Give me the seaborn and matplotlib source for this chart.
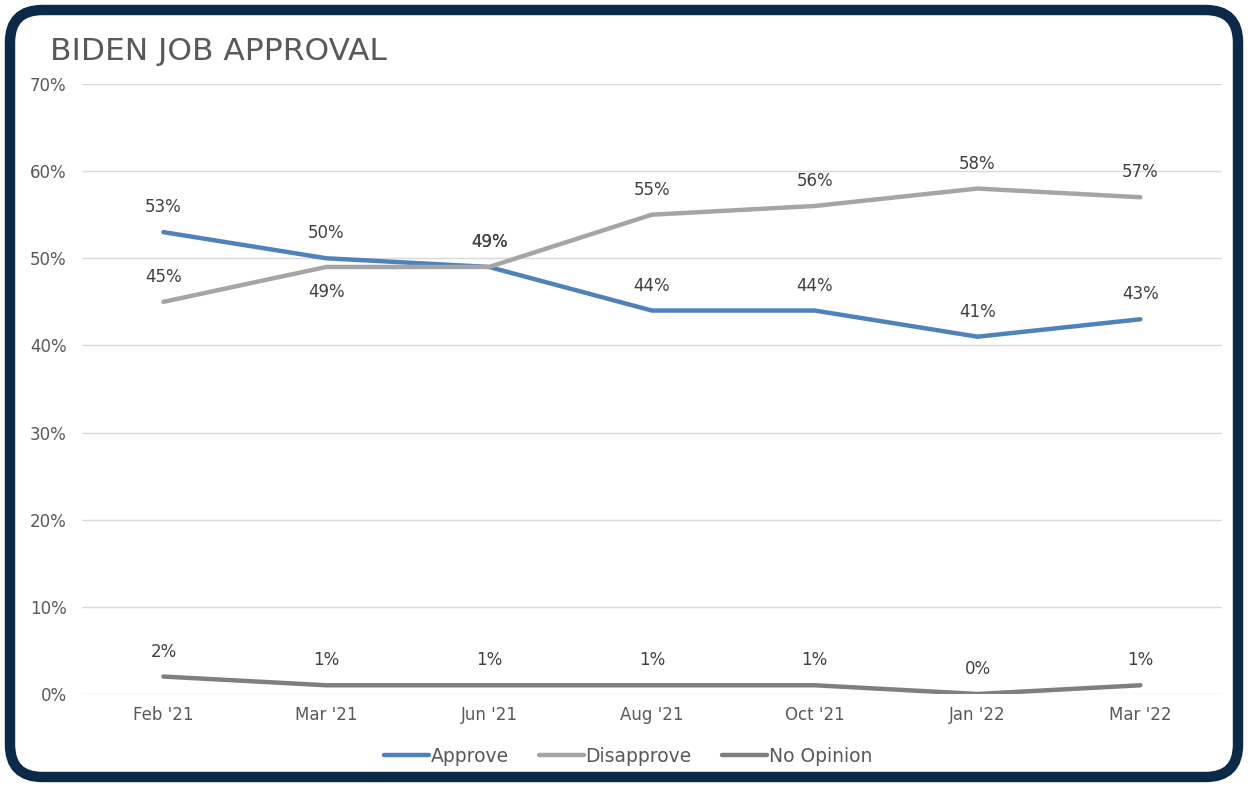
import matplotlib
matplotlib.use("Agg")
import matplotlib.pyplot as plt
import seaborn as sns
import pandas as pd
from matplotlib.patches import FancyBboxPatch
from matplotlib.lines import Line2D

categories = ["Feb '21", "Mar '21", "Jun '21", "Aug '21", "Oct '21", "Jan '22", "Mar '22"]
approve = [53, 50, 49, 44, 44, 41, 43]
disapprove = [45, 49, 49, 55, 56, 58, 57]
no_opinion = [2, 1, 1, 1, 1, 0, 1]
series_names = ["Approve", "Disapprove", "No Opinion"]
colors = ["#4F81BD", "#A5A5A5", "#7F7F7F"]
# label offset direction for Disapprove (+ above, - below)
disapprove_label_dir = [1, -1, 1, 1, 1, 1, 1]

sns.set_style("white")
plt.rcParams['font.family'] = ['DejaVu Sans']

df = pd.DataFrame({
    "x": list(range(len(categories))) * 3,
    "value": approve + disapprove + no_opinion,
    "series": sum([[s] * len(categories) for s in series_names], []),
})

fig = plt.figure(figsize=(12.48, 7.87), dpi=100)
frame = FancyBboxPatch((0.008, 0.0127), 0.984, 0.9746, boxstyle="round,pad=0,rounding_size=0.026",
                       transform=fig.transFigure, facecolor="white", edgecolor="#0B2A4A",
                       linewidth=7.5, mutation_aspect=12.48/7.87, zorder=-10)
fig.patches.append(frame)

ax = fig.add_axes([0.0657, 0.1182, 0.9133, 0.7751])
ax.patch.set_visible(False)
sns.lineplot(data=df, x="x", y="value", hue="series", palette=colors, linewidth=3.2,
             ax=ax, legend=False, sort=False)
for line in ax.lines:
    line.set_solid_capstyle("round")
    line.set_solid_joinstyle("round")

ax.set_xlim(-0.5, len(categories) - 0.5)
ax.set_ylim(0, 70)
ax.set_yticks(range(0, 71, 10))
ax.set_yticklabels([f"{v}%" for v in range(0, 71, 10)])
ax.set_xticks(range(len(categories)))
ax.set_xticklabels(categories)
ax.tick_params(axis="both", length=0, labelsize=12, labelcolor="#595959")
ax.tick_params(axis="x", pad=9)
ax.tick_params(axis="y", pad=11)
ax.grid(axis="y", color="#D9D9D9", linewidth=1)
ax.grid(axis="x", visible=False)
ax.set_axisbelow(True)
for s in ax.spines.values():
    s.set_visible(False)
ax.set_xlabel("")
ax.set_ylabel("")

lab_kw = dict(ha="center", va="center", fontsize=12, color="#404040")
for i in range(len(categories)):
    a, d, n = approve[i], disapprove[i], no_opinion[i]
    ax.annotate(f"{a}%", (i, a), xytext=(0, 18), textcoords="offset points", **lab_kw)
    ax.annotate(f"{d}%", (i, d), xytext=(0, 18 * disapprove_label_dir[i]),
                textcoords="offset points", **lab_kw)
    ax.annotate(f"{n}%", (i, n), xytext=(0, 18), textcoords="offset points", **lab_kw)

handles = [Line2D([0], [0], color=c, linewidth=3.2, solid_capstyle="round") for c in colors]
leg = fig.legend(handles, series_names, loc="center", bbox_to_anchor=(0.503, 0.039), ncol=3,
                 frameon=False, fontsize=13.5, handlelength=2.4, handletextpad=0.1, columnspacing=1.6)
for t in leg.get_texts():
    t.set_color("#595959")

fig.text(0.04, 0.934, "BIDEN JOB APPROVAL", fontsize=22.5, color="#595959", ha="left", va="center")

fig.savefig("out.png", dpi=100)
